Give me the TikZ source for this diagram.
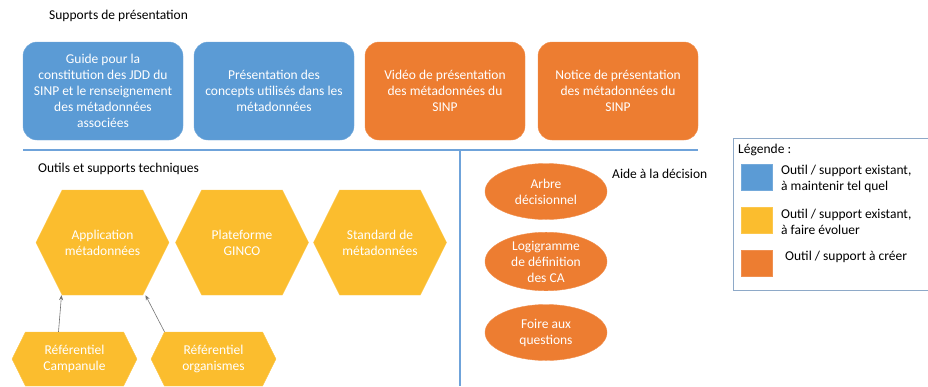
\documentclass[tikz,border=0pt]{standalone}
\usepackage{fontspec}
\setmainfont{Carlito}
\usetikzlibrary{shapes.geometric,shapes.symbols,arrows.meta}

\definecolor{boxblue}{HTML}{5B9BD5}
\definecolor{boxorange}{HTML}{ED7D31}
\definecolor{boxyellow}{HTML}{FBBD2E}
\definecolor{sepblue}{HTML}{6FA3DA}
\definecolor{legendline}{HTML}{8EA9C8}

\tikzset{
    support/.style={rounded corners=14pt, minimum width=160pt, minimum height=98pt,
        align=center, text=white, draw=#1!85!white, fill=#1},
    outil/.style={signal, signal to=east and west, signal pointer angle=127,
        align=center, text=white, draw=boxyellow!85!white, fill=boxyellow, inner sep=0pt},
    bigtool/.style={outil, minimum width=133pt, minimum height=105pt},
    smalltool/.style={outil, minimum width=125pt, minimum height=54pt},
    aide/.style={ellipse, align=center, text=white, fill=boxorange, draw=boxorange!85!white,
        minimum width=122pt, minimum height=56pt, inner sep=0pt},
    swatch/.style={minimum width=31pt, minimum height=26pt, inner sep=0pt, fill=#1, draw=#1!85!white},
    lien/.style={draw=black!55, line width=0.6pt, -{Stealth[length=5pt,width=4pt]}}
}

\begin{document}
\begin{tikzpicture}[x=1pt, y=-1pt, font=\fontsize{13.5}{16}\selectfont]

    \useasboundingbox (0, 0) rectangle (928, 386);

    % Draw the section titles
    \node[anchor=west, inner sep=0pt] (t1) at (49, 16) {Supports de présentation};
    \node[anchor=west, inner sep=0pt] (t2) at (38, 169) {Outils et supports techniques};
    \node[anchor=west, inner sep=0pt] (t3) at (612, 174) {Aide à la décision};

    % Draw the presentation supports
    \node[support=boxblue] (guide) at (103, 91) {Guide pour la\\constitution des JDD du\\SINP et le renseignement\\des métadonnées\\associées};
    \node[support=boxblue] (concepts) at (274, 91) {Présentation des\\concepts utilisés dans les\\métadonnées};
    \node[support=boxorange] (video) at (445, 91) {Vidéo de présentation\\des métadonnées du\\SINP};
    \node[support=boxorange] (notice) at (618, 91) {Notice de présentation\\des métadonnées du\\SINP};

    % Draw the separators
    \draw[sepblue, line width=1.5pt] (23, 150) -- (698, 150);
    \draw[sepblue, line width=1.5pt] (460, 150) -- (460, 386);

    % Draw the technical tools
    \node[bigtool] (appli) at (102.5, 242.5) {Application\\métadonnées};
    \node[bigtool] (ginco) at (242, 242.5) {Plateforme\\GINCO};
    \node[bigtool] (standard) at (380, 242.5) {Standard de\\métadonnées};
    \node[smalltool] (campanule) at (74.5, 359) {Référentiel\\Campanule};
    \node[smalltool] (organismes) at (213.5, 359) {Référentiel\\organismes};

    % Draw the links between the tools
    \draw[lien] ([xshift=-16pt]campanule.north) -- ([xshift=-41pt]appli.south);
    \draw[lien] ([xshift=-49pt]organismes.north) -- ([xshift=43pt]appli.south);

    % Draw the decision aids
    \node[aide] (arbre) at (546, 191.5) {Arbre\\décisionnel};
    \node[aide] (logi) at (546, 261.5) {Logigramme\\de définition\\des CA};
    \node[aide] (faq) at (546, 332.5) {Foire aux\\questions};

    % Finally draw the legend
    \draw[legendline, line width=1pt] (733, 138) rectangle (940, 290);
    \node[anchor=west, inner sep=0pt] (leg) at (738, 150) {Légende :};
    \node[swatch=boxblue] (s1) at (756.5, 177) {};
    \node[swatch=boxyellow] (s2) at (756.5, 220) {};
    \node[swatch=boxorange] (s3) at (756.5, 263) {};
    \node[anchor=west, align=left, inner sep=0pt] (l1) at (781, 178.5) {Outil / support existant,\\à maintenir tel quel};
    \node[anchor=west, align=left, inner sep=0pt] (l2) at (781, 221.5) {Outil / support existant,\\à faire évoluer};
    \node[anchor=west, inner sep=0pt] (l3) at (785, 257) {Outil / support à créer};

\end{tikzpicture}
\end{document}
